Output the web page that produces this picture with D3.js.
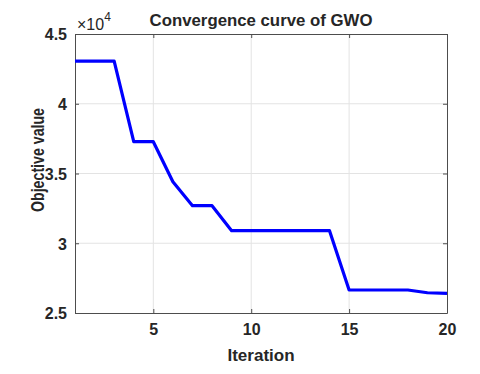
<!DOCTYPE html>
<html>
<head>
<meta charset="utf-8">
<script src="https://d3js.org/d3.v7.min.js"></script>
<style>
    body { margin: 0; background: white; }
    text { font-family: "Liberation Sans", Arial, sans-serif; font-weight: bold; fill: #262626; }
</style>
</head>
<body>
<div id="chart"></div>
<script>
var iterations = [1, 2, 3, 4, 5, 6, 7, 8, 9, 10, 11, 12, 13, 14, 15, 16, 17, 18, 19, 20]
var bestScore = [43060, 43060, 43060, 37280, 37280, 34410, 32690, 32690, 30900, 30900,
                 30900, 30900, 30900, 30900, 26650, 26650, 26650, 26650, 26450, 26410]

var xTicks = [5, 10, 15, 20]
var yTicks = [25000, 30000, 35000, 40000, 45000]
var yTickLabels = ["2.5", "3", "3.5", "4", "4.5"]

var width = 480
var height = 374

var plotLeft = 75, plotRight = 447, plotTop = 34, plotBottom = 313

var svg = d3.select("#chart").append("svg")
    .attr("width", width)
    .attr("height", height)

var x = d3.scaleLinear().domain([1, 20]).range([plotLeft, plotRight])
var y = d3.scaleLinear().domain([25000, 45000]).range([plotBottom, plotTop])

// grid
svg.append("g").selectAll("line")
    .data(xTicks.filter(function(d) { return d < 20 }))
    .enter().append("line")
    .attr("x1", function(d) { return x(d) }).attr("x2", function(d) { return x(d) })
    .attr("y1", plotTop).attr("y2", plotBottom)
    .attr("stroke", "#e3e3e3").attr("stroke-width", 1)

svg.append("g").selectAll("line")
    .data(yTicks.filter(function(d) { return d > 25000 && d < 45000 }))
    .enter().append("line")
    .attr("x1", plotLeft).attr("x2", plotRight)
    .attr("y1", function(d) { return y(d) }).attr("y2", function(d) { return y(d) })
    .attr("stroke", "#e3e3e3").attr("stroke-width", 1)

// axes, ticks pointing inward like matlab
var xAxis = svg.append("g")
    .attr("transform", "translate(0," + plotBottom + ")")
    .call(d3.axisBottom(x).tickValues(xTicks).tickSizeInner(-4).tickSizeOuter(0).tickPadding(11))
var xTop = svg.append("g")
    .attr("transform", "translate(0," + plotTop + ")")
    .call(d3.axisTop(x).tickValues(xTicks).tickSizeInner(-4).tickSizeOuter(0).tickFormat(""))
var yAxis = svg.append("g")
    .attr("transform", "translate(" + plotLeft + ",0)")
    .call(d3.axisLeft(y).tickValues(yTicks).tickSizeInner(-4).tickSizeOuter(0).tickPadding(8)
        .tickFormat(function(d, i) { return yTickLabels[i] }))
var yRight = svg.append("g")
    .attr("transform", "translate(" + plotRight + ",0)")
    .call(d3.axisRight(y).tickValues(yTicks).tickSizeInner(-4).tickSizeOuter(0).tickFormat(""))

svg.selectAll(".domain").attr("stroke", "#4d4d4d")
svg.selectAll(".tick line").attr("stroke", "#4d4d4d")
svg.selectAll(".tick text")
    .style("font-size", "16px")
    .style("font-family", "'Liberation Sans', Arial, sans-serif")
    .style("font-weight", "bold")
    .attr("fill", "#262626")
yAxis.selectAll(".tick text").attr("dy", "0.36em")

// curve
var line = d3.line()
    .x(function(d, i) { return x(iterations[i]) })
    .y(function(d) { return y(d) })

svg.append("path")
    .datum(bestScore)
    .attr("d", line)
    .attr("fill", "none")
    .attr("stroke", "#0000ff")
    .attr("stroke-width", 3.2)
    .attr("stroke-linejoin", "round")

// labels
svg.append("text")
    .attr("x", (plotLeft + plotRight) / 2).attr("y", 25.5)
    .attr("text-anchor", "middle")
    .style("font-size", "16.8px")
    .text("Convergence curve of GWO")

svg.append("text")
    .attr("x", (plotLeft + plotRight) / 2).attr("y", 361)
    .attr("text-anchor", "middle")
    .style("font-size", "17px")
    .text("Iteration")

svg.append("text")
    .attr("transform", "translate(44,160) rotate(-90)")
    .attr("text-anchor", "middle")
    .attr("textLength", 104)
    .attr("lengthAdjust", "spacingAndGlyphs")
    .style("font-size", "17.5px")
    .text("Objective value")

var expo = svg.append("text")
    .attr("x", 77).attr("y", 30)
    .style("font-size", "16px")
    .style("font-weight", "normal")
expo.append("tspan").text("\u00d710")
expo.append("tspan").attr("dy", -9).style("font-size", "12px").text("4")
</script>
</body>
</html>
